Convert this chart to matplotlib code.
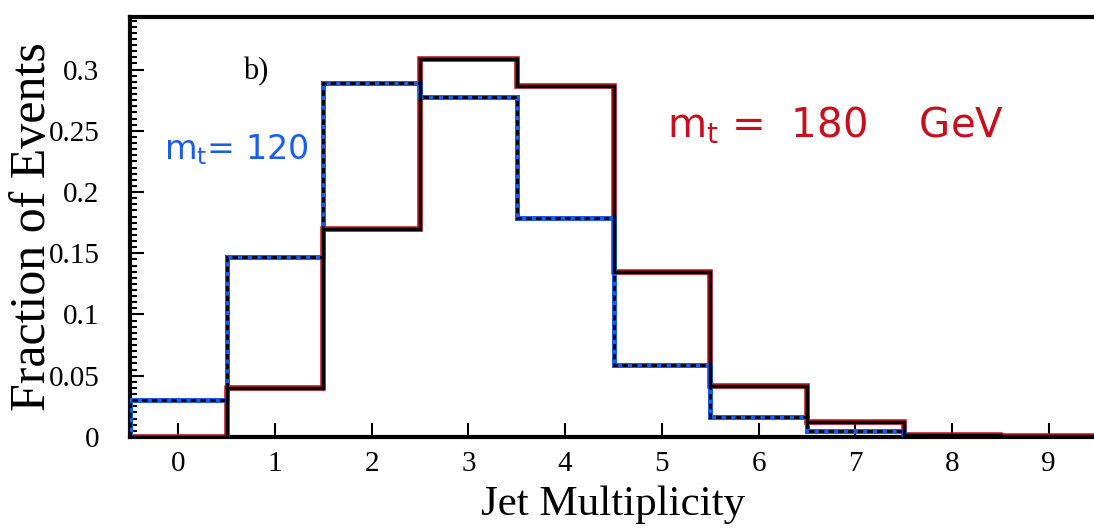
import numpy as np
import matplotlib.pyplot as plt
from matplotlib.ticker import MultipleLocator

# jet multiplicity bins and fraction of events
n_jets    = [0, 1, 2, 3, 4, 5, 6, 7, 8, 9]
frac_m180 = [0.0, 0.040, 0.170, 0.309, 0.287, 0.135, 0.042, 0.012, 0.002, 0.001]
frac_m120 = [0.030, 0.147, 0.289, 0.278, 0.179, 0.059, 0.016, 0.005, 0.0, 0.0]
x_ticks   = [0, 1, 2, 3, 4, 5, 6, 7, 8, 9]
y_ticks   = [0, 0.05, 0.1, 0.15, 0.2, 0.25, 0.3]
y_labels  = ["0", "0.05", "0.1", "0.15", "0.2", "0.25", "0.3"]

serif = ["Liberation Serif", "DejaVu Serif"]
RED  = "#c8101c"
BLUE = "#1a5cf0"

fig = plt.figure(figsize=(10.94, 5.29), dpi=100)
ax = fig.add_axes([0.1188, 0.174, 0.884, 0.794])

edges = np.append(np.array(n_jets) - 0.5, n_jets[-1] + 0.5)

# m_t = 180: black solid line traced over in red
ax.stairs(frac_m180, edges, color=RED, lw=4.0, zorder=3)
ax.stairs(frac_m180, edges, color="black", lw=2.4, zorder=4)
# m_t = 120: black dashed line traced over in blue
ax.stairs(frac_m120, edges, color=BLUE, lw=3.6, zorder=3)
ax.stairs(frac_m120, edges, color="black", lw=2.0, ls=(0, (2.0, 1.5)), zorder=4)

ax.set_xlim(-0.5, 9.5)
ax.set_ylim(0, 0.343)
ax.set_xticks(x_ticks)
ax.set_yticks(y_ticks)
ax.set_yticklabels(y_labels)
ax.yaxis.set_minor_locator(MultipleLocator(0.005))

ax.tick_params(axis="both", direction="in", width=1.5, labelsize=21)
ax.tick_params(axis="y", which="major", length=10, pad=22)
ax.tick_params(axis="y", which="minor", direction="in", length=5, width=1.5)
ax.tick_params(axis="x", which="major", length=10, pad=10)
for lab in ax.get_xticklabels() + ax.get_yticklabels():
    lab.set_family(serif)

for side in ["left", "bottom", "top"]:
    ax.spines[side].set_linewidth(3)
ax.spines["right"].set_visible(False)

ax.set_xlabel("Jet Multiplicity", family=serif, fontsize=31, labelpad=6)
ax.set_ylabel("Fraction of Events", family=serif, fontsize=36)
ax.yaxis.set_label_coords(-0.076, 0.5)

ax.text(0.8, 0.298, "b)", family=serif, fontsize=22, ha="center", va="center")
ax.text(-0.15, 0.235, r"$\mathregular{m_t}$= 120", color=BLUE, fontsize=24,
        ha="left", va="center")
ax.text(5.05, 0.254, r"$\mathregular{m_t}$ =  180    GeV", color=RED, fontsize=29,
        ha="left", va="center")

plt.savefig("out.png", dpi=100)
